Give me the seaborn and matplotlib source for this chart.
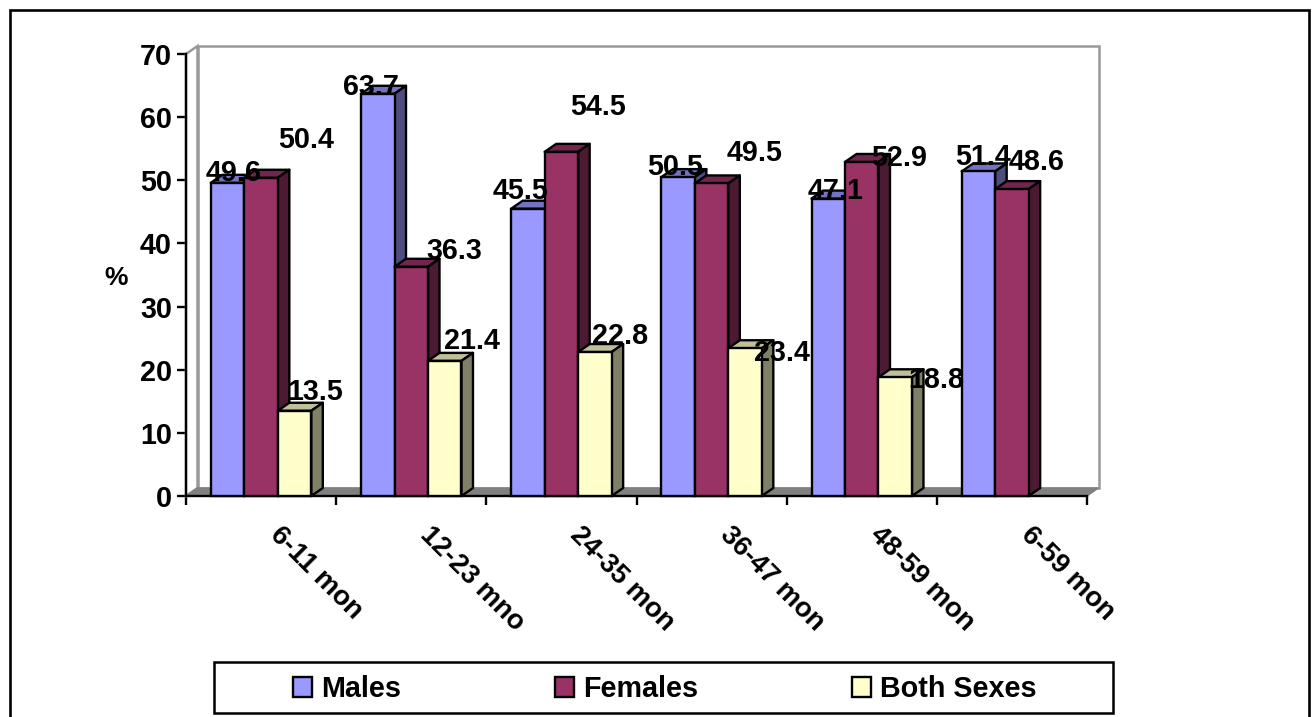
import numpy as np
import pandas as pd
import matplotlib
matplotlib.use("Agg")
import matplotlib.pyplot as plt
from matplotlib.lines import Line2D
from matplotlib.patches import Polygon, Rectangle
from matplotlib.ticker import FixedLocator
from matplotlib.transforms import ScaledTranslation
import seaborn as sns

# Survey values by age group
age_groups = ["6-11 mon", "12-23 mno", "24-35 mon", "36-47 mon", "48-59 mon", "6-59 mon"]
males = [49.6, 63.7, 45.5, 50.5, 47.1, 51.4]
females = [50.4, 36.3, 54.5, 49.5, 52.9, 48.6]
both_sexes = [13.5, 21.4, 22.8, 23.4, 18.8, np.nan]
series_names = ["Males", "Females", "Both Sexes"]

# Face colours of each series: front, top, side
front_colors = ["#9999FF", "#993366", "#FFFFCC"]
top_colors = ["#7373BF", "#73264D", "#BFBF99"]
side_colors = ["#4D4D80", "#4D1A33", "#808066"]

# Value label offsets from the top centre of each bar, in pixels (x right, y down)
label_offsets = [
    [(6, -10), (-7, -7), (-7.5, -18), (-3.5, -10), (7, -8), (5, -14.5)],
    [(45.5, -38), (43, -16), (37, -45), (43, -30), (37, -4), (25, -27)],
    [(21, -19), (27, -20), (25.5, -16), (36.5, 5), (41, 3), None],
]

W, H, DPI = 1313, 717, 100
AX_LEFT, AX_RIGHT, AX_TOP, AX_BOTTOM = 186, 1087, 54, 496
DEPTH_PX_X, DEPTH_PX_Y = 11.5, 8
PT = 72 / DPI  # points per pixel

sns.set_theme(style="white")
plt.rcParams["font.family"] = ["Liberation Sans", "DejaVu Sans"]
plt.rcParams["font.weight"] = "bold"
plt.rcParams["axes.labelweight"] = "bold"
FS = 20.7
LW = 1.7

df = pd.DataFrame({"Age": age_groups, "Males": males, "Females": females, "Both Sexes": both_sexes})
long_df = df.melt(id_vars="Age", var_name="Series", value_name="Percent")

fig = plt.figure(figsize=(W / DPI, H / DPI), dpi=DPI, facecolor="white")
ax = fig.add_axes([AX_LEFT / W, 1 - AX_BOTTOM / H, (AX_RIGHT - AX_LEFT) / W, (AX_BOTTOM - AX_TOP) / H])
ax.patch.set_alpha(0)

sns.barplot(data=long_df, x="Age", y="Percent", hue="Series", hue_order=series_names,
            order=age_groups, palette=front_colors, width=0.669, gap=0, dodge=True,
            saturation=1, errorbar=None, edgecolor="black", linewidth=LW, ax=ax)

ax.set_xlim(-0.5, 5.5)
ax.set_ylim(0, 70)
dx = DEPTH_PX_X * 6 / (AX_RIGHT - AX_LEFT)
dy = DEPTH_PX_Y * 70 / (AX_BOTTOM - AX_TOP)

# Back wall, side wall and floor
wall = Polygon([(-0.5 + dx, dy), (5.5 + dx, dy), (5.5 + dx, 70 + dy), (-0.5 + dx, 70 + dy)],
               closed=True, fc="white", ec="#999999", lw=1.8, zorder=0.5, clip_on=False)
side_wall = Polygon([(-0.5, 0), (-0.5 + dx, dy), (-0.5 + dx, 70 + dy), (-0.5, 70)],
                    closed=True, fc="white", ec="#999999", lw=1.8, zorder=0.6, clip_on=False)
floor = Polygon([(-0.5, 0), (-0.5 + dx, dy), (5.5 + dx, dy), (5.5, 0)],
                closed=True, fc="#808080", ec="#808080", lw=1, zorder=0.7, clip_on=False)
for face in (wall, side_wall, floor):
    ax.add_patch(face)

# Extrude every bar and place its value label
for j, container in enumerate(ax.containers):
    for i, bar in enumerate(container.patches):
        v = bar.get_height()
        if not np.isfinite(v) or v == 0:
            bar.set_visible(False)
            continue
        x0, w = bar.get_x(), bar.get_width()
        bar.set_zorder(3 + j + 0.5)
        bar.set_clip_on(False)
        top = Polygon([(x0, v), (x0 + dx, v + dy), (x0 + w + dx, v + dy), (x0 + w, v)], closed=True,
                      fc=top_colors[j], ec="black", lw=LW, zorder=3 + j, clip_on=False, joinstyle="round")
        side = Polygon([(x0 + w, 0), (x0 + w + dx, dy), (x0 + w + dx, v + dy), (x0 + w, v)], closed=True,
                       fc=side_colors[j], ec="black", lw=LW, zorder=3 + j, clip_on=False, joinstyle="round")
        ax.add_patch(top)
        ax.add_patch(side)
        off = label_offsets[j][i]
        ax.annotate(f"{v:.1f}", xy=(x0 + w / 2, v), xytext=(off[0] * PT, -off[1] * PT),
                    textcoords="offset points", ha="center", va="center",
                    fontsize=FS, fontweight="bold", color="black", zorder=20, annotation_clip=False)

# Axes, ticks and tick labels
for name, spine in ax.spines.items():
    spine.set_visible(name in ("left", "bottom"))
    spine.set_color("black")
    spine.set_linewidth(LW)
    spine.set_zorder(2)
ax.set_yticks(range(0, 71, 10))
ax.tick_params(axis="y", which="major", left=True, length=9 * PT, width=LW, color="black",
               labelsize=FS, pad=5 * PT, labelcolor="black")
ax.xaxis.set_minor_locator(FixedLocator(np.arange(-0.5, 6, 1)))
ax.tick_params(axis="x", which="minor", bottom=True, length=9 * PT, width=LW, color="black")
ax.tick_params(axis="x", which="major", bottom=False, length=0, labelsize=FS - 1, pad=26 * PT, labelcolor="black")
shift = ScaledTranslation(3.5 / DPI, 0, fig.dpi_scale_trans)
for label in ax.get_xticklabels():
    label.set_rotation(-45)
    label.set_ha("left")
    label.set_va("top")
    label.set_transform(label.get_transform() + shift)
ax.set_xlabel("")
ax.set_ylabel("")
fig.text(116 / W, 1 - 278 / H, "%", ha="center", va="center", fontsize=19, fontweight="bold", color="black")

# Legend in a separate box
handles, labels = ax.get_legend_handles_labels()
ax.legend(handles, labels, ncol=3, frameon=False, loc="center", prop={"size": FS, "weight": "bold"},
          bbox_to_anchor=(665 / W, 1 - 689 / H), bbox_transform=fig.transFigure,
          columnspacing=5.36, handlelength=0.66, handleheight=0.66, handletextpad=0.31, borderpad=0,
          labelcolor="black")
fig.add_artist(Rectangle((214 / W, 1 - 713 / H), (1113 - 214) / W, (713 - 662) / H,
                         transform=fig.transFigure, fc="white", ec="black", lw=1.8, zorder=-1))

# Outer frame, open at the bottom edge
fig.add_artist(Line2D([9.5 / W, 9.5 / W, 1308.5 / W, 1308.5 / W], [0, 1 - 9.5 / H, 1 - 9.5 / H, 0],
                      transform=fig.transFigure, color="black", lw=1.9, solid_joinstyle="miter"))

fig.savefig("out.png", dpi=DPI, facecolor="white")
